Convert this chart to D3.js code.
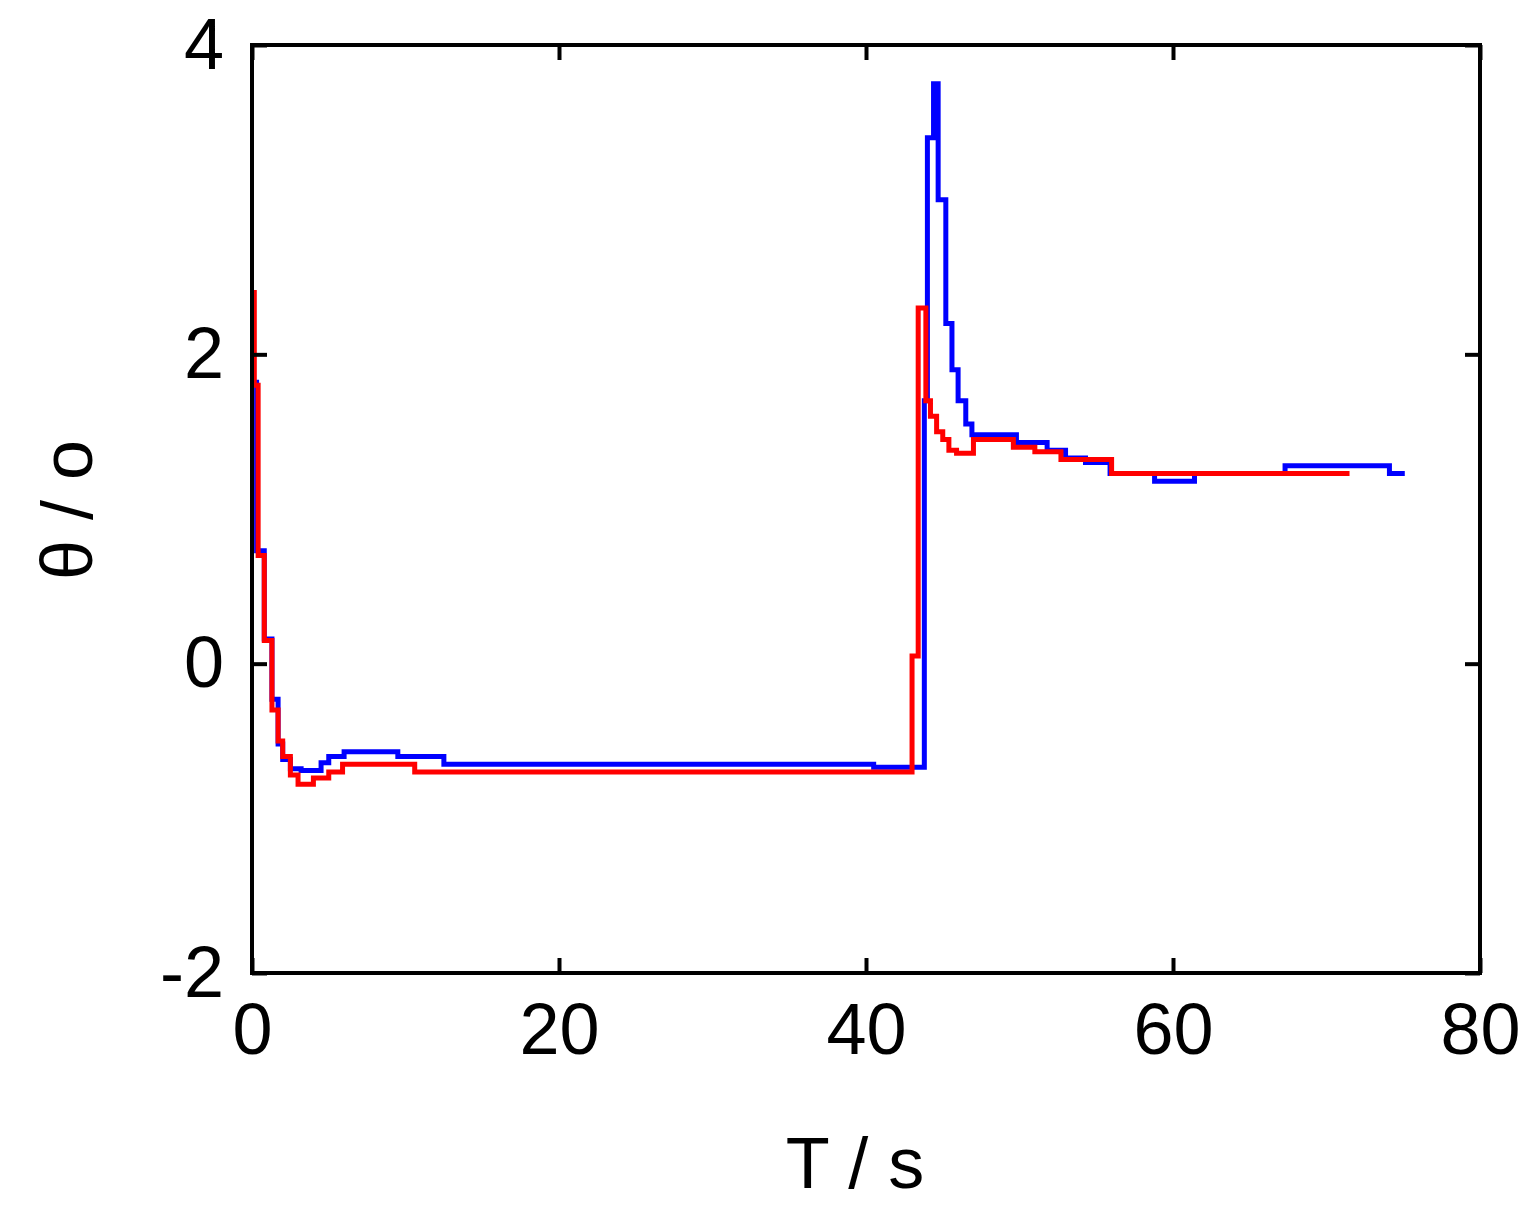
<!DOCTYPE html>
<html><head><meta charset="utf-8">
<script src="https://cdn.jsdelivr.net/npm/d3@7"></script>
<style>body{margin:0;background:#fff}</style></head>
<body><svg id="c" width="1537" height="1213"></svg>
<script>
const xTicks=[0,20,40,60,80];
const yTicks=[-2,0,2,4];
const blueT=[0,0.3,0.8,1.3,1.7,2.0,2.5,3.2,4.5,5.0,6.0,7.0,9.5,12.5,40.5,43.8,44.0,44.4,44.7,45.2,45.6,46.0,46.5,46.9,49.8,51.8,53.0,54.3,55.9,58.8,61.4,67.3,74.1,75.1];
const blueV=[1.82,0.73,0.16,-0.23,-0.52,-0.62,-0.68,-0.69,-0.64,-0.6,-0.57,-0.57,-0.6,-0.65,-0.67,1.7,3.4,3.75,3.0,2.2,1.9,1.7,1.55,1.48,1.43,1.38,1.33,1.3,1.23,1.18,1.23,1.28,1.23,1.23];
const redT=[0,0.15,0.4,0.8,1.3,1.7,2.0,2.5,3.0,4.0,5.0,5.9,10.6,43.0,43.4,43.9,44.2,44.6,45.0,45.4,45.9,47.0,49.6,51.0,52.7,56.0,71.5];
const redV=[2.4,1.8,0.7,0.15,-0.3,-0.5,-0.6,-0.72,-0.78,-0.74,-0.7,-0.65,-0.7,0.05,2.3,1.7,1.6,1.5,1.45,1.38,1.36,1.45,1.4,1.37,1.32,1.23,1.23];

const svg=d3.select('#c');
const x=d3.scaleLinear().domain([0,80]).range([252,1480]);
const y=d3.scaleLinear().domain([-2,4]).range([973,45]);
const line=d3.line().x(d=>x(d[0])).y(d=>y(d[1])).curve(d3.curveStepAfter);
svg.append('clipPath').attr('id','cp').append('rect').attr('x',252).attr('y',45).attr('width',1228).attr('height',928);
svg.append('path').datum(blueT.map((t,i)=>[t,blueV[i]])).attr('d',line).attr('fill','none').attr('stroke','#0000ff').attr('stroke-width',5).attr('clip-path','url(#cp)');
svg.append('path').datum(redT.map((t,i)=>[t,redV[i]])).attr('d',line).attr('fill','none').attr('stroke','#ff0000').attr('stroke-width',5).attr('clip-path','url(#cp)');
svg.append('rect').attr('x',252).attr('y',45).attr('width',1228).attr('height',928).attr('fill','none').attr('stroke','#000').attr('stroke-width',4);
const font='Arial, Liberation Sans, sans-serif';
const fmt=d3.format('d');
const ax=svg.append('g').attr('transform','translate(0,973)').call(d3.axisBottom(x).tickValues(xTicks).tickFormat(fmt).tickSize(-15).tickPadding(30));
const axT=svg.append('g').attr('transform','translate(0,45)').call(d3.axisTop(x).tickValues(xTicks).tickSize(-15).tickFormat(''));
const ay=svg.append('g').attr('transform','translate(252,0)').call(d3.axisLeft(y).tickValues(yTicks).tickFormat(d=>d<0?'-'+Math.abs(d):String(d)).tickSize(-15).tickPadding(28));
const ayR=svg.append('g').attr('transform','translate(1480,0)').call(d3.axisRight(y).tickValues(yTicks).tickSize(-15).tickFormat(''));
[ax,axT,ay,ayR].forEach(g=>{g.select('.domain').remove();g.selectAll('line').attr('stroke','#000').attr('stroke-width',4);g.selectAll('text').attr('font-family',font).attr('font-size',72).attr('fill','#000');});
svg.append('text').attr('x',855).attr('y',1188).attr('text-anchor','middle').attr('font-family',font).attr('font-size',72).text('T / s');
svg.append('text').attr('transform','translate(92,510) rotate(-90)').attr('text-anchor','middle').attr('font-family',font).attr('font-size',72).text('θ / o');
</script></body></html>
